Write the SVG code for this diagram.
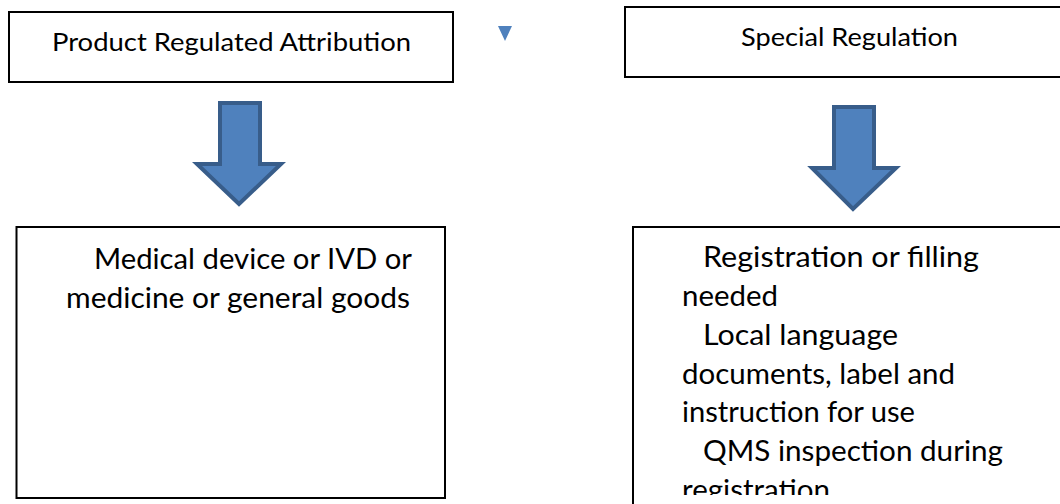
<svg xmlns="http://www.w3.org/2000/svg" width="1060" height="504" viewBox="0 0 1060 504">
<defs>
<style>
.box{fill:#fff;stroke:#000;stroke-width:2}
.t{font-family:Lato,"Liberation Sans",sans-serif;fill:#000}
.s{font-size:24.5px}
.b{font-size:28px}
.arr{fill:#4F81BD;stroke:#385D8A;stroke-width:4;stroke-linejoin:miter}
</style>
<clipPath id="clipR"><rect x="630" y="220" width="440" height="275"/></clipPath>
</defs>
<rect width="1060" height="504" fill="#fff"/>
<g id="node-attribution">
<rect class="box" x="9" y="12" width="444" height="70"/>
<text class="t s" x="52" y="51" textLength="359" lengthAdjust="spacingAndGlyphs">Product Regulated Attribution</text>
</g>
<g id="node-special">
<rect class="box" x="625" y="7" width="460" height="70"/>
<text class="t s" x="741" y="46" textLength="217" lengthAdjust="spacingAndGlyphs">Special Regulation</text>
</g>
<g id="node-marker">
<polygon points="498,26 512,26 505,41" fill="#4F81BD"/>
</g>
<g id="node-product">
<rect class="box" x="16.5" y="227" width="428.5" height="271"/>
<text class="t b" x="94" y="269" textLength="318" lengthAdjust="spacingAndGlyphs">Medical device or IVD or</text>
<text class="t b" x="66" y="308" textLength="344" lengthAdjust="spacingAndGlyphs">medicine or general goods</text>
</g>
<g id="node-requirements">
<rect class="box" x="633" y="227" width="460" height="290"/>
<g clip-path="url(#clipR)">
<text class="t b" x="703" y="267" textLength="276" lengthAdjust="spacingAndGlyphs">Registration or filling</text>
<text class="t b" x="682" y="306" textLength="96" lengthAdjust="spacingAndGlyphs">needed</text>
<text class="t b" x="703" y="345" textLength="195" lengthAdjust="spacingAndGlyphs">Local language</text>
<text class="t b" x="682" y="384" textLength="273" lengthAdjust="spacingAndGlyphs">documents, label and</text>
<text class="t b" x="682" y="422" textLength="233" lengthAdjust="spacingAndGlyphs">instruction for use</text>
<text class="t b" x="703" y="461" textLength="300" lengthAdjust="spacingAndGlyphs">QMS inspection during</text>
<text class="t b" x="682" y="500" textLength="148" lengthAdjust="spacingAndGlyphs">registration</text>
</g>
</g>
<g id="connectors">
<path class="arr" d="M220,103 H260 V164 H281 L239,204 L197,164 H220 Z"/>
<path class="arr" d="M834,107 H874 V168 H896 L853,209 L812,168 H834 Z"/>
</g>
</svg>
